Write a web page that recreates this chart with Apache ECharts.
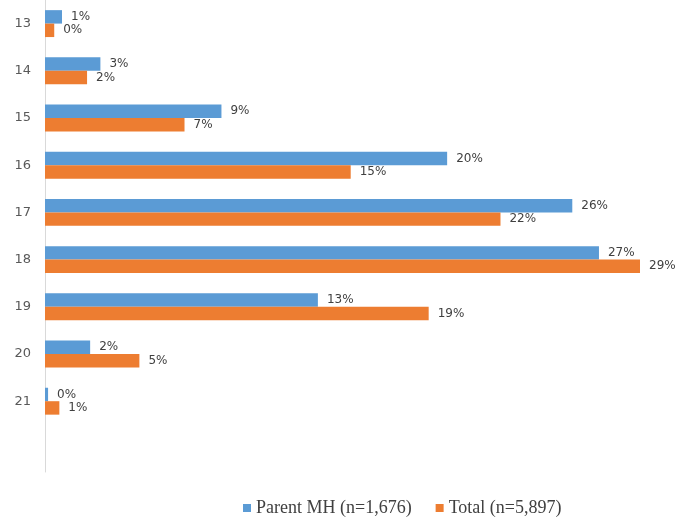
<!DOCTYPE html>
<html><head><meta charset="utf-8">
<script src="https://cdn.jsdelivr.net/npm/echarts@6/dist/echarts.min.js"></script>
<style>html,body{margin:0;padding:0;background:#fff}#c{width:676px;height:521px}</style>
</head><body><div id="c"></div>
<script>
const categories = ['13','14','15','16','17','18','19','20','21',''];
const parentMH = [0.83, 2.7, 8.6, 19.6, 25.7, 27.0, 13.3, 2.2, 0.15, null];
const total = [0.45, 2.05, 6.8, 14.9, 22.2, 29.0, 18.7, 4.6, 0.7, null];
const seriesNames = ['Parent MH (n=1,676)', 'Total (n=5,897)'];

const chart = echarts.init(document.getElementById('c'));
const lbl = {
  show: true, position: 'right', distance: 9,
  color: '#404040', fontSize: 12, fontFamily: 'DejaVu Sans',
  formatter: p => p.value == null ? '' : Math.round(p.value) + '%'
};
chart.setOption({
  animation: false,
  grid: {left: 45, right: 36, top: -4, bottom: 49, containLabel: false},
  legend: {
    bottom: -1, left: 238, itemWidth: 8, itemHeight: 8, itemGap: 24,
    icon: 'rect',
    textStyle: {fontFamily: 'Liberation Serif', fontSize: 18, color: '#404040'},
    data: seriesNames
  },
  xAxis: {type: 'value', min: 0, max: 29, show: false},
  yAxis: {
    type: 'category', data: categories, inverse: true,
    axisLine: {show: true, lineStyle: {color: '#d9d9d9'}},
    axisTick: {show: false},
    axisLabel: {color: '#595959', fontSize: 13, fontFamily: 'DejaVu Sans', margin: 14}
  },
  series: [
    {name: seriesNames[0], type: 'bar', data: parentMH, barGap: '0%', barCategoryGap: '43%',
     itemStyle: {color: '#5b9bd5'}, label: lbl},
    {name: seriesNames[1], type: 'bar', data: total, barGap: '0%', barCategoryGap: '43%',
     itemStyle: {color: '#ed7d31'}, label: lbl}
  ]
});
</script></body></html>
